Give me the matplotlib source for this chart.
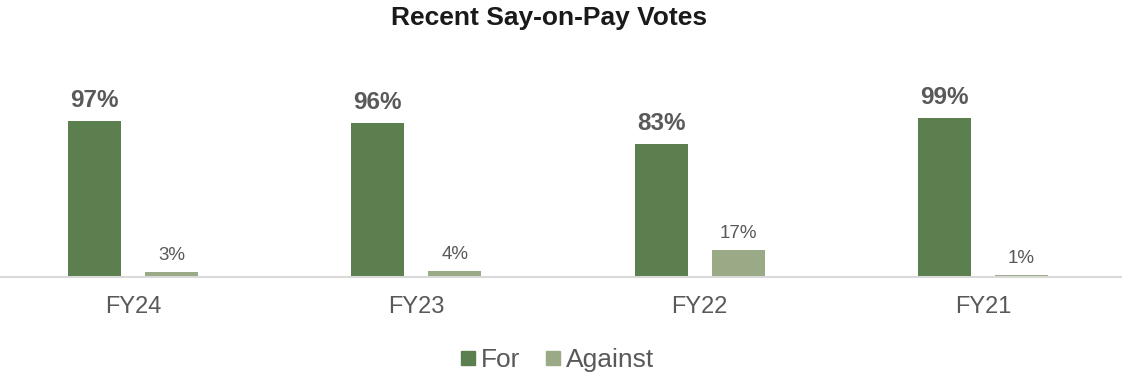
import matplotlib
matplotlib.use("Agg")
import matplotlib.pyplot as plt
from matplotlib.lines import Line2D
import numpy as np

plt.rcParams['font.family'] = ['Liberation Sans', 'DejaVu Sans']

categories = ["FY24", "FY23", "FY22", "FY21"]
for_votes = [97, 96, 83, 99]
against_votes = [3, 4, 17, 1]
series_names = ["For", "Against"]

c_for = "#5B7F4E"
c_against = "#9AAA87"
c_text = "#595959"

W, H = 1122, 374
fig = plt.figure(figsize=(W / 100, H / 100), dpi=100)

pitch = 283.33
x0 = -133 / pitch
x1 = (W - 133) / pitch
base_y = 277
px_per_pct = 1.608
ax_h = 100 * px_per_pct
ax = fig.add_axes([0, 1 - base_y / H, 1, ax_h / H])
ax.set_xlim(x0, x1)
ax.set_ylim(0, 100)

x = np.arange(len(categories))
bw = 0.187
off = 0.136
ax.bar(x - off, for_votes, bw, color=c_for)
ax.bar(x + off, against_votes, bw, color=c_against)

for xi, v in zip(x, for_votes):
    ax.annotate(f"{v}%", (xi - off, v), xytext=(0, 14), textcoords="offset pixels",
                ha="center", va="baseline", fontsize=17.5, fontweight="bold",
                color=c_text, annotation_clip=False)
for xi, v in zip(x, against_votes):
    ax.annotate(f"{v}%", (xi + off, v), xytext=(0, 12), textcoords="offset pixels",
                ha="center", va="baseline", fontsize=13.5, color=c_text,
                annotation_clip=False)

for s in ["top", "right", "left"]:
    ax.spines[s].set_visible(False)
ax.spines["bottom"].set_color("#D9D9D9")
ax.spines["bottom"].set_linewidth(1.5)
ax.set_yticks([])
ax.set_xticks(x)
ax.set_xticklabels(categories, fontsize=17, color=c_text)
ax.tick_params(axis="x", length=0, pad=14)

fig.text(0.489, 1 - 18 / H, "Recent Say-on-Pay Votes", ha="center", va="center",
         fontsize=19, fontweight="bold", color="#1a1a1a")

handles = [Line2D([], [], marker="s", linestyle="none", markersize=10, color=c_for),
           Line2D([], [], marker="s", linestyle="none", markersize=10, color=c_against)]
fig.legend(handles, series_names, loc="center", bbox_to_anchor=(0.496, 1 - 360 / H),
           ncol=2, frameon=False, fontsize=19, handlelength=0.7, handletextpad=0.15,
           columnspacing=0.9, labelcolor=c_text)

fig.savefig("out.png", dpi=100)
